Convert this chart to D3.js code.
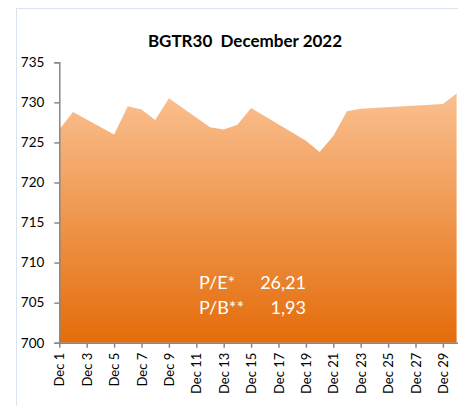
<!DOCTYPE html>
<html><head><meta charset="utf-8">
<script src="https://cdn.jsdelivr.net/npm/d3@7"></script>
<style>
html,body{margin:0;padding:0;background:#fff;overflow:hidden}
svg{display:block;font-family:Lato,"Open Sans",sans-serif}
</style></head>
<body>
<script>
const title = "BGTR30  December 2022";
const days = [1,2,5,6,7,8,9,12,13,14,15,19,20,21,22,23,29,30];
const values = [726.6,728.8,726.0,729.5,729.1,727.8,730.5,726.9,726.6,727.2,729.3,725.2,723.8,725.8,728.9,729.2,729.8,731.1];
const yTicks = [700,705,710,715,720,725,730,735];
const xTickDays = [1,3,5,7,9,11,13,15,17,19,21,23,25,27,29];
const peLabels = ["P/E*","P/B**"];
const peValues = ["26,21","1,93"];

const W = 458, H = 406;
const svg = d3.select("body").append("svg").attr("width", W).attr("height", H);

// outer chart frame
svg.append("rect").attr("x",16.5).attr("y",8.5).attr("width",600).attr("height",600)
  .attr("fill","none").attr("stroke","#dae3f0").attr("stroke-width",1);

const x0 = 59.3, plotTop = 62.3, plotBottom = 342.7;
const x = d3.scaleLinear().domain([1,31]).range([x0, x0 + 30*13.7]);
const y = d3.scaleLinear().domain([700,735]).range([plotBottom, plotTop]);

const defs = svg.append("defs");
const grad = defs.append("linearGradient").attr("id","g").attr("x1",0).attr("y1",0).attr("x2",0).attr("y2",1);
grad.append("stop").attr("offset","0%").attr("stop-color","#fac090");
grad.append("stop").attr("offset","100%").attr("stop-color","#e46c0a");

const data = days.map((d,i)=>({d, v: values[i]}));
const area = d3.area().x(p=>x(p.d)).y0(y(700)).y1(p=>y(p.v));
svg.append("path").datum(data).attr("d", area).attr("fill","url(#g)");

// title
svg.append("text").attr("x",245).attr("y",47).attr("text-anchor","middle")
  .style("white-space","pre")
  .attr("font-weight","bold").attr("font-size",17).attr("fill","#000").text(title);

// y axis
const yAxis = d3.axisLeft(y).tickValues(yTicks).tickSize(5).tickPadding(10);
const gy = svg.append("g").attr("transform",`translate(${x0},0)`).call(yAxis);
gy.select(".domain").attr("stroke","#878787").attr("stroke-width",1.5);
gy.selectAll(".tick line").attr("stroke","#878787").attr("stroke-width",1.5);
gy.selectAll(".tick text").attr("font-size",13.5).attr("fill","#000").attr("font-family","Lato");

// x axis
const xAxis = d3.axisBottom(x).tickValues(xTickDays).tickFormat(d=>"Dec "+d).tickSize(5).tickSizeOuter(0);
const gx = svg.append("g").attr("transform",`translate(0,${plotBottom})`).call(xAxis);
gx.select(".domain").attr("stroke","#878787").attr("stroke-width",1.5);
gx.selectAll(".tick line").attr("stroke","#878787").attr("stroke-width",1.5);
gx.selectAll(".tick text").attr("font-size",13).attr("fill","#000").attr("font-family","Lato")
  .attr("transform","rotate(-90)").attr("text-anchor","end").attr("x",-10).attr("y",0).attr("dy","0.35em");

// P/E, P/B labels
const lab = svg.append("g").attr("fill","#fff").attr("font-size",18);
peLabels.forEach((t,i)=>{
  lab.append("text").attr("x",199).attr("y",289+i*25).text(t);
  lab.append("text").attr("x",306).attr("y",289+i*25).attr("text-anchor","end").text(peValues[i]);
});
</script>
</body></html>
